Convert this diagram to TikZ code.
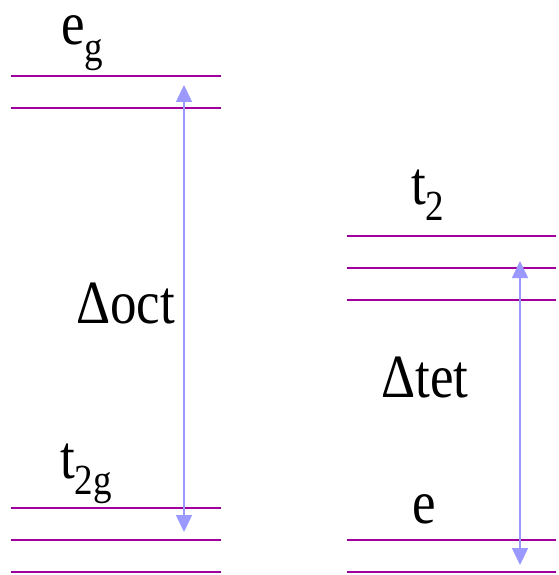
\documentclass[tikz,border=0pt]{standalone}
\usepackage{fontspec}
\usepackage{graphicx}
\setmainfont{Liberation Serif}
\newfontfamily\levelfont{Liberation Serif}
\usetikzlibrary{arrows.meta}
\definecolor{levelpurple}{RGB}{160,0,160}
\definecolor{gapblue}{RGB}{153,153,255}
\newcommand{\lowsub}[1]{\raisebox{-14pt}{\fontsize{37}{40}\selectfont #1}}
\newcommand{\tallbox}[1]{\scalebox{1}[1.16]{#1}}

\begin{document}
\begin{tikzpicture}[x=1pt, y=-1pt,
    level/.style={levelpurple, line width=2pt},
    levellabel/.style={inner sep=0pt, anchor=base west, font=\levelfont\fontsize{53}{60}\selectfont},
    arrow/.style={{Triangle[width=16pt,length=17pt]}-{Triangle[width=16pt,length=17pt]}, gapblue, line width=1.6pt}
]
\useasboundingbox (0,0) rectangle (558,575);

% octahedral levels
\foreach \y in {76,108,508,540,572}
    \draw[level] (11,\y) -- (221,\y);

% tetrahedral levels
\foreach \y in {236,268,300,540,572}
    \draw[level] (347,\y) -- (556,\y);

\node[levellabel] (eg) at (61,45) {\tallbox{e\lowsub{g}}};
\node[levellabel] (t2g) at (60,478) {\tallbox{t\lowsub{2g}}};
\node[levellabel] (doct) at (76,323) {\tallbox{Δoct}};

\node[levellabel] (t2) at (411,204) {\tallbox{t\lowsub{2}}};
\node[levellabel] (e) at (412,523) {\tallbox{e}};
\node[levellabel] (dtet) at (381,397) {\tallbox{Δtet}};

% splitting arrows
\coordinate (octtop) at (184,85);
\coordinate (octbot) at (184,532);
\coordinate (tettop) at (520,261);
\coordinate (tetbot) at (520,565);

\draw[arrow] (octtop) -- (octbot);
\draw[arrow] (tettop) -- (tetbot);

\end{tikzpicture}
\end{document}
